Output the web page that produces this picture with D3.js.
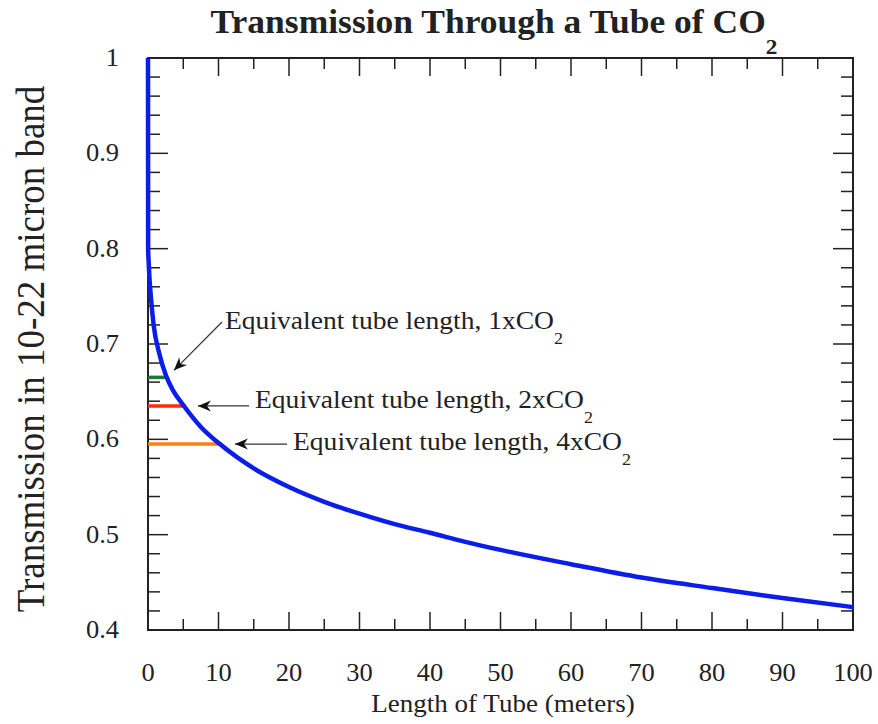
<!DOCTYPE html>
<html>
<head>
<meta charset="utf-8">
<script src="https://cdn.jsdelivr.net/npm/d3@7/dist/d3.min.js"></script>
<style>
  html, body { margin: 0; padding: 0; background: #fff; }
  svg { display: block; }
  text { font-family: "Liberation Serif", "Times New Roman", serif; fill: #222; }
</style>
</head>
<body>
<svg id="chart" width="878" height="724"></svg>
<script>
// ---- data ----
const tubeLength = [0, 0.02, 0.1, 0.2, 0.4, 0.8, 1.6, 2.55, 3.5, 5.1, 7.5, 10.2, 15, 20, 25, 30, 35, 40, 45, 50, 60, 70, 80, 90, 100];
const transmission = [1.0, 0.80, 0.785, 0.77, 0.75, 0.72, 0.69, 0.667, 0.652, 0.635, 0.613, 0.595, 0.5695, 0.55, 0.5345, 0.522, 0.511, 0.502, 0.4925, 0.484, 0.469, 0.455, 0.444, 0.4335, 0.424];

const eqLabels = ["1x", "2x", "4x"];
const eqLength = [2.55, 5.1, 10.2];
const eqTrans = [0.665, 0.635, 0.595];
const eqColors = ["#1b7a2e", "#ff2a12", "#ff7f14"];

const xTicks = [0, 10, 20, 30, 40, 50, 60, 70, 80, 90, 100];
const yTicks = [0.4, 0.5, 0.6, 0.7, 0.8, 0.9, 1];
const yTickLabels = ["0.4", "0.5", "0.6", "0.7", "0.8", "0.9", "1"];

const titleText = "Transmission Through a Tube of CO";
const xTitle = "Length of Tube (meters)";
const yTitle = "Transmission in 10-22 micron band";

// ---- layout ----
const SX = 1.06; // slight horizontal stretch of glyphs seen in the reference
const svg = d3.select("#chart");
const x = d3.scaleLinear().domain([0, 100]).range([148, 853]);
const y = d3.scaleLinear().domain([0.4, 1]).range([630, 58]);

svg.append("rect").attr("width", 878).attr("height", 724).attr("fill", "#fff");

// ticks (inward, all four sides)
const xMinor = d3.range(5, 100, 10);
const yMinor = d3.range(0, 31).map(i => 0.4 + i * 0.02).filter(v => Math.abs((v * 10) - Math.round(v * 10)) > 1e-6);
const tickG = svg.append("g").attr("stroke", "#222").attr("stroke-width", 1.5);
function vt(v, len) {
  tickG.append("line").attr("x1", x(v)).attr("x2", x(v)).attr("y1", y(0.4)).attr("y2", y(0.4) - len);
  tickG.append("line").attr("x1", x(v)).attr("x2", x(v)).attr("y1", y(1)).attr("y2", y(1) + len);
}
function ht(v, len) {
  tickG.append("line").attr("y1", y(v)).attr("y2", y(v)).attr("x1", x(0)).attr("x2", x(0) + len);
  tickG.append("line").attr("y1", y(v)).attr("y2", y(v)).attr("x1", x(100)).attr("x2", x(100) - len);
}
xTicks.forEach(v => vt(v, 18));
xMinor.forEach(v => vt(v, 11));
yTicks.forEach(v => ht(v, 20));
yMinor.forEach(v => ht(v, 12));

// frame
svg.append("rect")
  .attr("x", x(0)).attr("y", y(1))
  .attr("width", x(100) - x(0)).attr("height", y(0.4) - y(1))
  .attr("fill", "none").attr("stroke", "#222").attr("stroke-width", 2);

// stretched text helper
function stext(px, py, str, size, anchor, weight) {
  return svg.append("text")
    .attr("transform", `translate(${px},${py}) scale(${SX},1)`)
    .attr("text-anchor", anchor || "start")
    .attr("font-size", size)
    .attr("font-weight", weight || "normal")
    .text(str);
}

// tick labels
xTicks.forEach(v => stext(x(v), 681, String(v), 25, "middle"));
yTicks.forEach((v, i) => stext(119, y(v) + 8, yTickLabels[i], 25, "end"));

// equivalent length lines
eqLength.forEach((L, i) => {
  svg.append("line")
    .attr("x1", x(0)).attr("x2", x(L) + 2)
    .attr("y1", y(eqTrans[i])).attr("y2", y(eqTrans[i]))
    .attr("stroke", eqColors[i]).attr("stroke-width", 3.5);
});

// curve
const pts = tubeLength.map((L, i) => [L, transmission[i]]);
svg.append("path")
  .datum(pts)
  .attr("fill", "none")
  .attr("stroke", "#0a1ee8")
  .attr("stroke-width", 4.5)
  .attr("d", d3.line().x(d => x(d[0])).y(d => y(d[1])).curve(d3.curveMonotoneX));

// arrows
const defs = svg.append("defs");
defs.append("marker")
  .attr("id", "ah").attr("viewBox", "-14 -6 16 12")
  .attr("refX", 0).attr("refY", 0)
  .attr("markerWidth", 16).attr("markerHeight", 12)
  .attr("markerUnits", "userSpaceOnUse")
  .attr("orient", "auto")
  .append("path").attr("d", "M0,0 L-13,-5.5 L-9,0 L-13,5.5 Z").attr("fill", "#111");

const arrowFrom = [[222, 322], [249, y(eqTrans[1])], [287, y(eqTrans[2])]];
const arrowTo = [[x(eqLength[0]) + 8, y(eqTrans[0]) - 7], [x(eqLength[1]) + 14, y(eqTrans[1])], [x(eqLength[2]) + 15, y(eqTrans[2])]];
const textPos = [[225, 329], [255, 408], [293, 450]];

eqLabels.forEach((lab, i) => {
  svg.append("line")
    .attr("x1", arrowFrom[i][0]).attr("y1", arrowFrom[i][1])
    .attr("x2", arrowTo[i][0]).attr("y2", arrowTo[i][1])
    .attr("stroke", "#333").attr("stroke-width", 1.2)
    .attr("marker-end", "url(#ah)");
  const t = stext(textPos[i][0], textPos[i][1], "", 26, "start");
  t.append("tspan").text("Equivalent tube length, " + lab + "CO");
  t.append("tspan").attr("font-size", 17).attr("dy", 15).text("2");
});

// title
const tt = stext(494, 33, "", 33.5, "middle", "bold");
tt.append("tspan").text(titleText);
tt.append("tspan").attr("font-size", 22).attr("dy", 21).text("2");

// axis titles
stext(503, 712, xTitle, 25.5, "middle");
svg.append("text")
  .attr("transform", `translate(44,349) rotate(-90) scale(1,${SX})`)
  .attr("text-anchor", "middle")
  .attr("font-size", 37)
  .text(yTitle);
</script>
</body>
</html>
